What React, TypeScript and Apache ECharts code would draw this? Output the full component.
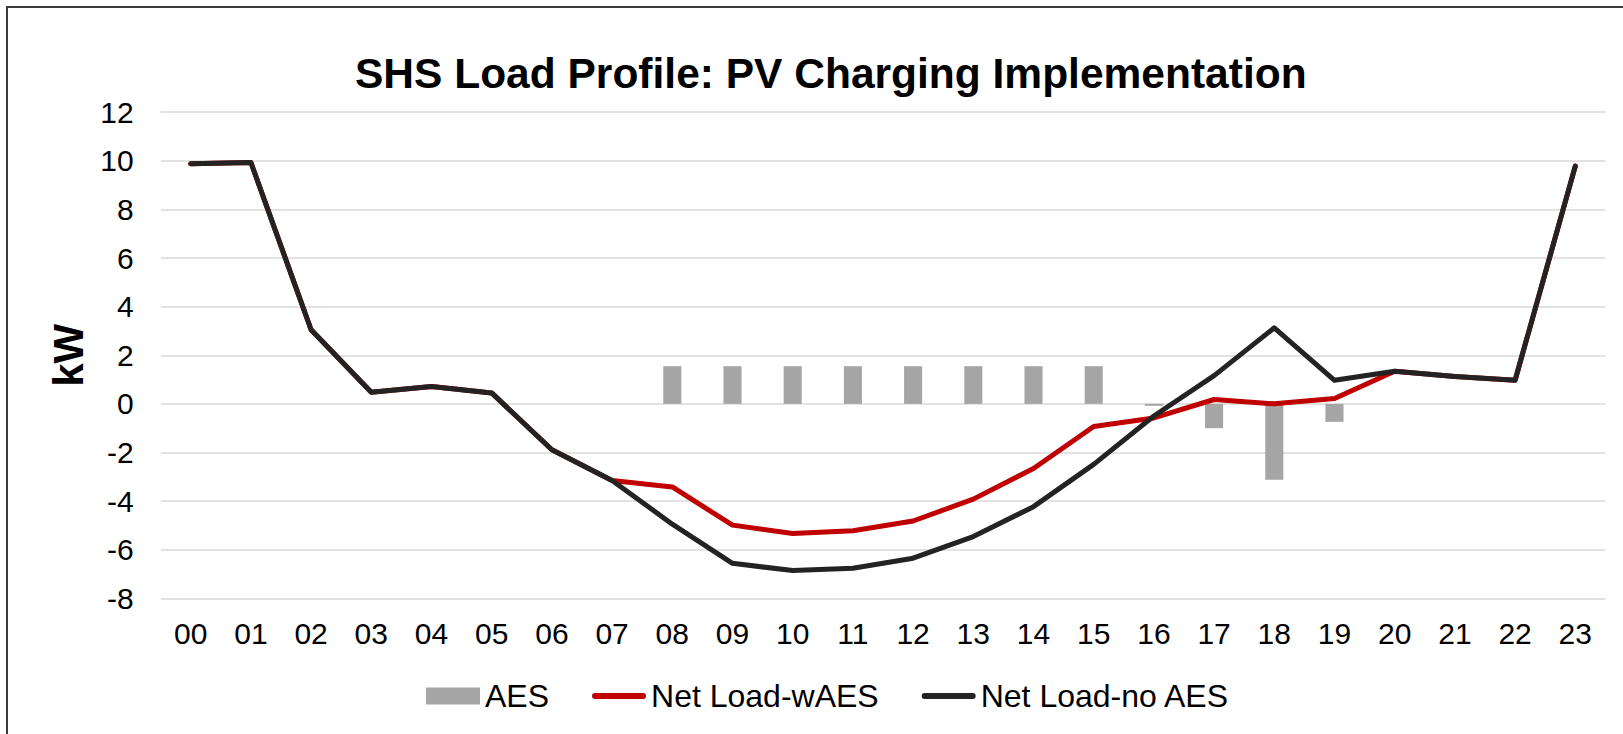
import React, { useEffect, useRef } from "react";
import * as echarts from "echarts";

const hours = ["00","01","02","03","04","05","06","07","08","09","10","11","12","13","14","15","16","17","18","19","20","21","22","23"];
const aes = [0, 0, 0, 0, 0, 0, 0, 0, 1.55, 1.55, 1.55, 1.55, 1.55, 1.55, 1.55, 1.55, -0.08, -1.0, -3.12, -0.74, 0, 0, 0, 0];
const netLoadWithAES = [9.88, 9.93, 3.05, 0.48, 0.71, 0.45, -1.89, -3.15, -3.42, -4.99, -5.33, -5.22, -4.82, -3.92, -2.66, -0.93, -0.58, 0.18, 0.0, 0.22, 1.34, 1.13, 0.97, 9.78];
const netLoadNoAES = [9.88, 9.93, 3.05, 0.48, 0.71, 0.45, -1.89, -3.15, -4.95, -6.56, -6.86, -6.76, -6.35, -5.46, -4.23, -2.49, -0.5, 1.16, 3.13, 0.97, 1.34, 1.13, 0.97, 9.78];
const yTicks = { min: -8, max: 12, interval: 2 };

const FONT = "'Liberation Sans', Arial, sans-serif";
const LINE_ICON = "path://M3,0 L51,0 A3,3 0 0 1 51,6 L3,6 A3,3 0 0 1 3,0 Z";

export default function App() {
  const ref = useRef<HTMLDivElement>(null);
  useEffect(() => {
    document.body.style.margin = "0";
    const chart = echarts.init(ref.current!, undefined, { renderer: "svg" });
    chart.setOption({
      animation: false,
      backgroundColor: "#ffffff",
      textStyle: { fontFamily: FONT },
      title: {
        text: "SHS Load Profile: PV Charging Implementation",
        left: 355,
        top: 52,
        padding: 0,
        textStyle: { fontSize: 42.5, fontWeight: "bold", color: "#000", fontFamily: FONT },
      },
      graphic: [
        {
          type: "polyline",
          shape: { points: [[7, 760], [7, 7], [1640, 7]] },
          style: { stroke: "#3a3a3a", lineWidth: 2, fill: null },
          silent: true,
        },
      ],
      grid: { left: 160.6, right: 17.6, top: 112.2, bottom: 135.7, containLabel: false },
      legend: {
        left: 426,
        top: 680,
        padding: 0,
        itemGap: 43,
        itemWidth: 54,
        itemHeight: 17,
        textStyle: { fontSize: 32, color: "#000", fontFamily: FONT },
        data: [
          { name: "AES", icon: "rect" },
          { name: "Net Load-wAES", icon: LINE_ICON },
          { name: "Net Load-no AES", icon: LINE_ICON },
        ],
      },
      xAxis: {
        type: "category",
        data: hours,
        axisLine: { show: false, onZero: false },
        axisTick: { show: false },
        axisLabel: { fontSize: 30, color: "#000", margin: 20, fontFamily: FONT },
      },
      yAxis: {
        type: "value",
        min: yTicks.min,
        max: yTicks.max,
        interval: yTicks.interval,
        name: "kW",
        nameLocation: "middle",
        nameGap: 70,
        nameTextStyle: { fontSize: 42, fontWeight: "bold", color: "#000", fontFamily: FONT },
        axisLine: { show: false },
        axisTick: { show: false },
        axisLabel: { fontSize: 30, color: "#000", margin: 27, fontFamily: FONT },
        splitLine: { lineStyle: { color: "#d9d9d9", width: 1.5 } },
      },
      series: [
        {
          name: "AES",
          type: "bar",
          data: aes,
          barWidth: "30%",
          itemStyle: { color: "#a5a5a5" },
        },
        {
          name: "Net Load-wAES",
          type: "line",
          data: netLoadWithAES,
          symbol: "none",
          lineStyle: { color: "#c00000", width: 5, cap: "round", join: "round" },
          itemStyle: { color: "#c00000" },
        },
        {
          name: "Net Load-no AES",
          type: "line",
          data: netLoadNoAES,
          symbol: "none",
          lineStyle: { color: "#232323", width: 5, cap: "round", join: "round" },
          itemStyle: { color: "#232323" },
        },
      ],
    });
    return () => chart.dispose();
  }, []);
  return <div ref={ref} style={{ width: 1623, height: 734 }} />;
}
